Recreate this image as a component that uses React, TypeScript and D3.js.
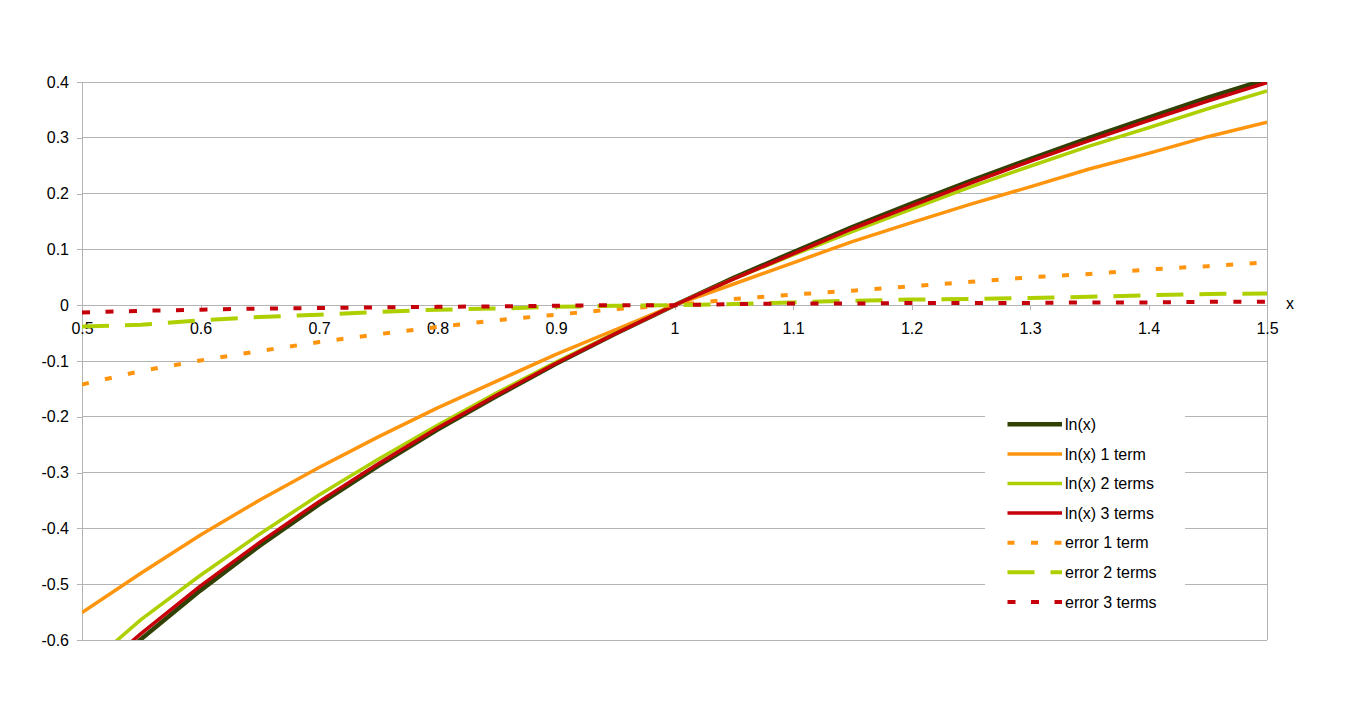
import React, { Component } from 'react';
import * as d3 from 'd3';

// values
const xValues = [0.5, 0.55, 0.6, 0.65, 0.7, 0.75, 0.8, 0.85, 0.9, 0.95, 1.0,
  1.05, 1.1, 1.15, 1.2, 1.25, 1.3, 1.35, 1.4, 1.45, 1.5];

const lnValues = [-0.693, -0.598, -0.511, -0.431, -0.357, -0.288, -0.223, -0.163, -0.105, -0.051, 0,
  0.049, 0.095, 0.140, 0.182, 0.223, 0.262, 0.300, 0.336, 0.372, 0.405];
const oneTerm = [-0.551, -0.480, -0.412, -0.349, -0.291, -0.236, -0.184, -0.136, -0.088, -0.044, 0,
  0.038, 0.076, 0.114, 0.148, 0.181, 0.212, 0.244, 0.272, 0.302, 0.328];
const twoTerms = [-0.655, -0.563, -0.484, -0.410, -0.340, -0.276, -0.215, -0.157, -0.102, -0.050, 0,
  0.047, 0.090, 0.132, 0.172, 0.212, 0.249, 0.285, 0.318, 0.352, 0.384];
const threeTerms = [-0.680, -0.588, -0.503, -0.425, -0.352, -0.284, -0.220, -0.161, -0.104, -0.051, 0,
  0.047, 0.092, 0.137, 0.178, 0.219, 0.258, 0.295, 0.331, 0.366, 0.399];
const errOne = [-0.142, -0.118, -0.099, -0.082, -0.066, -0.052, -0.039, -0.027, -0.017, -0.007, 0,
  0.011, 0.019, 0.026, 0.034, 0.042, 0.050, 0.056, 0.064, 0.070, 0.077];
const errTwo = [-0.038, -0.035, -0.027, -0.021, -0.017, -0.012, -0.008, -0.006, -0.003, -0.001, 0,
  0.002, 0.005, 0.008, 0.010, 0.011, 0.013, 0.015, 0.018, 0.020, 0.021];
const errThree = [-0.013, -0.010, -0.008, -0.006, -0.005, -0.004, -0.003, -0.002, -0.001, 0, 0,
  0.002, 0.003, 0.003, 0.004, 0.004, 0.004, 0.005, 0.005, 0.006, 0.006];

const seriesNames = ['ln(x)', 'ln(x) 1 term', 'ln(x) 2 terms', 'ln(x) 3 terms',
  'error 1 term', 'error 2 terms', 'error 3 terms'];

const xTickValues = [0.5, 0.6, 0.7, 0.8, 0.9, 1, 1.1, 1.2, 1.3, 1.4, 1.5];
const xTickLabels = ['0.5', '0.6', '0.7', '0.8', '0.9', '1', '1.1', '1.2', '1.3', '1.4', '1.5'];
const yTickValues = [0.4, 0.3, 0.2, 0.1, 0, -0.1, -0.2, -0.3, -0.4, -0.5, -0.6];
const yTickLabels = ['0.4', '0.3', '0.2', '0.1', '0', '-0.1', '-0.2', '-0.3', '-0.4', '-0.5', '-0.6'];

const font = '"Liberation Sans", Arial, sans-serif';
const gridColor = '#b3b3b3';

class Chart extends Component {
  node: SVGSVGElement | null = null;

  componentDidMount() {
    this.renderChart();
  }

  renderChart() {
    const svg = d3.select(this.node);
    svg.selectAll('*').remove();

    const left = 82, right = 1267, top = 82, bottom = 640;

    const x = d3.scaleLinear().domain([0.5, 1.5]).range([left, right]);
    const y = d3.scaleLinear().domain([-0.6, 0.4]).range([bottom, top]);

    const series = [
      { values: lnValues, color: '#314004', width: 4.5, dash: null },
      { values: oneTerm, color: '#ff950e', width: 3.5, dash: null },
      { values: twoTerms, color: '#aecf00', width: 3.5, dash: null },
      { values: threeTerms, color: '#c5000b', width: 3.5, dash: null },
      { values: errOne, color: '#ff950e', width: 4, dash: '7 16.5' },
      { values: errTwo, color: '#aecf00', width: 4, dash: '27 16' },
      { values: errThree, color: '#c5000b', width: 4, dash: '8 15.5' },
    ];

    svg.append('defs').append('clipPath')
      .attr('id', 'plot-clip')
      .append('rect')
        .attr('x', left)
        .attr('y', top)
        .attr('width', right - left)
        .attr('height', bottom - top);

    // horizontal grid
    svg.append('g')
      .selectAll('line')
      .data(yTickValues)
      .enter()
      .append('line')
        .attr('x1', left)
        .attr('x2', right)
        .attr('y1', d => y(d))
        .attr('y2', d => y(d))
        .attr('stroke', gridColor)
        .attr('stroke-width', 1)
        .attr('shape-rendering', 'crispEdges');

    // right border
    svg.append('line')
      .attr('x1', right).attr('x2', right)
      .attr('y1', top).attr('y2', bottom)
      .attr('stroke', gridColor)
      .attr('shape-rendering', 'crispEdges');

    const yAxis = d3.axisLeft(y)
      .tickValues(yTickValues)
      .tickFormat((d, i) => yTickLabels[i])
      .tickSize(5)
      .tickSizeOuter(0)
      .tickPadding(8);

    const xAxis = d3.axisBottom(x)
      .tickValues(xTickValues)
      .tickFormat((d, i) => xTickLabels[i])
      .tickSize(5)
      .tickSizeOuter(0)
      .tickPadding(12.5);

    const gy = svg.append('g')
      .attr('transform', `translate(${left}, 0)`)
      .call(yAxis);
    const gx = svg.append('g')
      .attr('transform', `translate(0, ${y(0)})`)
      .call(xAxis);

    [gx, gy].forEach(g => {
      g.select('.domain').attr('stroke', gridColor).attr('shape-rendering', 'crispEdges');
      g.selectAll('.tick line').attr('stroke', gridColor).attr('shape-rendering', 'crispEdges');
      g.selectAll('.tick text')
        .attr('fill', '#000')
        .style('font-family', font)
        .style('font-size', '16px');
    });

    svg.append('text')
      .attr('x', 1290)
      .attr('y', 303)
      .attr('dy', '0.35em')
      .attr('text-anchor', 'middle')
      .style('font-family', font)
      .style('font-size', '16px')
      .text('x');

    const line = d3.line<number>()
      .x((d, i) => x(xValues[i]))
      .y(d => y(d));

    const lines = svg.append('g').attr('clip-path', 'url(#plot-clip)');
    series.forEach(s => {
      lines.append('path')
        .attr('d', line(s.values))
        .attr('fill', 'none')
        .attr('stroke', s.color)
        .attr('stroke-width', s.width)
        .attr('stroke-dasharray', s.dash)
        .attr('stroke-linejoin', 'round');
    });

    // legend
    const legend = svg.append('g');
    legend.append('rect')
      .attr('x', 985)
      .attr('y', 409)
      .attr('width', 200)
      .attr('height', 208)
      .attr('fill', '#fff');

    const rowY = (i: number) => 424.3 + i * 29.6;
    series.forEach((s, i) => {
      legend.append('line')
        .attr('x1', 1007.5)
        .attr('x2', 1062)
        .attr('y1', rowY(i))
        .attr('y2', rowY(i))
        .attr('stroke', s.color)
        .attr('stroke-width', s.width)
        .attr('stroke-dasharray', s.dash);
      legend.append('text')
        .attr('x', 1065)
        .attr('y', rowY(i))
        .attr('dy', '0.36em')
        .style('font-family', font)
        .style('font-size', '16px')
        .text(seriesNames[i]);
    });
  }

  render() {
    return (
      <svg
        ref={node => { this.node = node; }}
        width={1352}
        height={703}
        style={{ position: 'absolute', left: 0, top: 0, background: '#fff' }}
      />
    );
  }
}

export default function App() {
  return <Chart />;
}
